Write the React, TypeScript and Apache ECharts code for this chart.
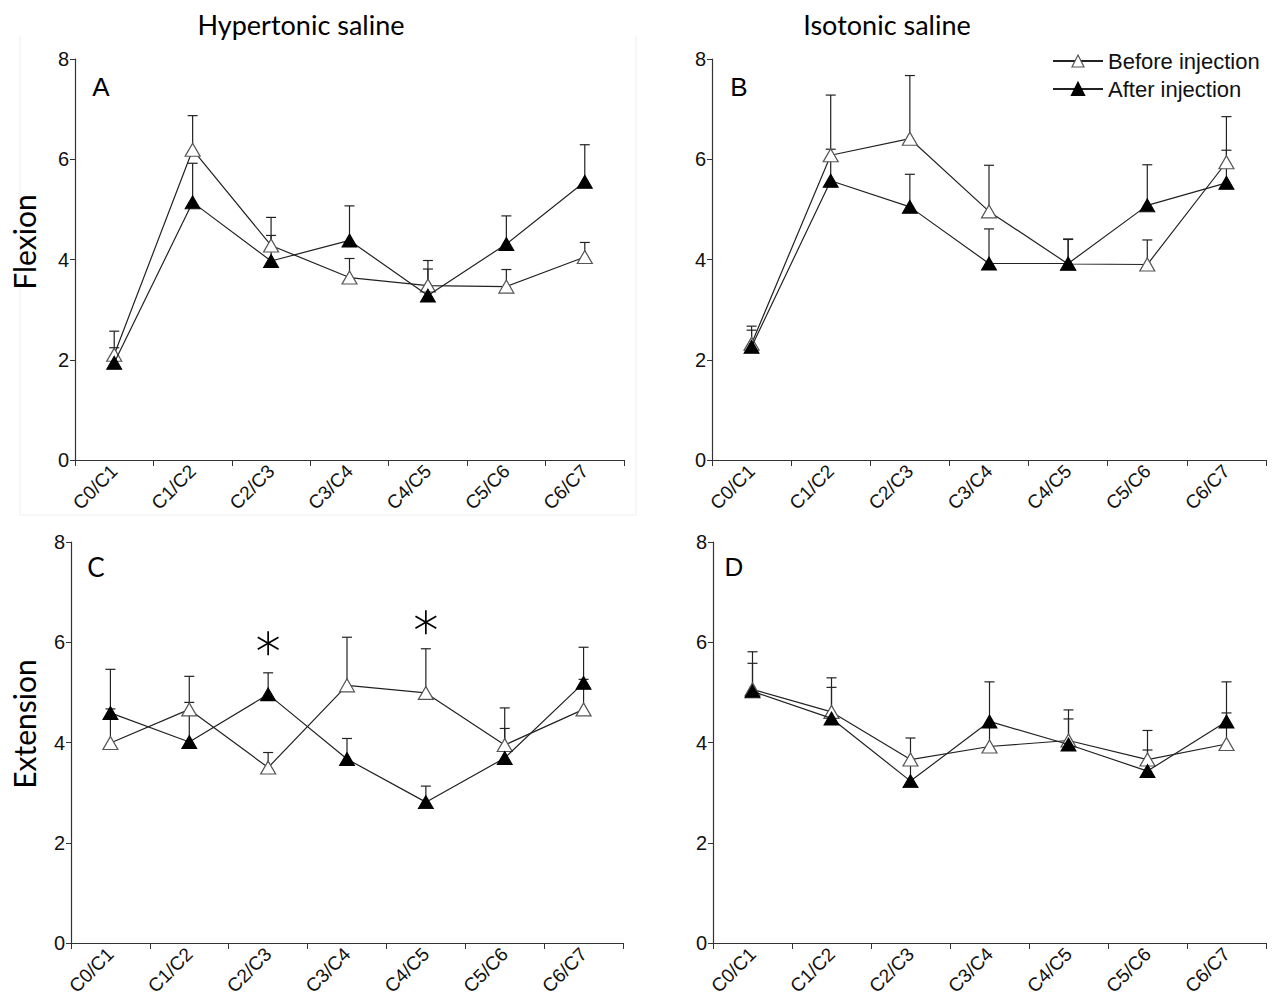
import React, { useEffect, useRef } from "react";
import * as echarts from "echarts";

const categories = ["C0/C1", "C1/C2", "C2/C3", "C3/C4", "C4/C5", "C5/C6", "C6/C7"];
const yTicks = [0, 2, 4, 6, 8];

// Panel A: flexion, hypertonic saline (means and upper end of error bars)
const aBefore = [2.1, 6.19, 4.28, 3.64, 3.48, 3.46, 4.05];
const aBeforeTop = [2.57, 6.87, 4.84, 4.02, 3.98, 3.8, 4.34];
const aAfter = [1.94, 5.14, 3.97, 4.38, 3.28, 4.31, 5.55];
const aAfterTop = [2.24, 5.92, 4.48, 5.07, 3.81, 4.87, 6.29];

// Panel B: flexion, isotonic saline
const bBefore = [2.32, 6.08, 6.41, 4.96, 3.91, 3.9, 5.94];
const bBeforeTop = [2.67, 7.28, 7.67, 5.88, 4.4, 4.39, 6.85];
const bAfter = [2.26, 5.57, 5.05, 3.92, 3.92, 5.08, 5.53];
const bAfterTop = [2.59, 6.2, 5.7, 4.61, 4.41, 5.89, 6.18];

// Panel C: extension, hypertonic saline
const cBefore = [3.99, 4.66, 3.5, 5.14, 4.99, 3.95, 4.66];
const cBeforeTop = [4.67, 5.32, 3.8, 6.1, 5.87, 4.69, 5.26];
const cAfter = [4.59, 4.01, 4.96, 3.67, 2.81, 3.69, 5.19];
const cAfterTop = [5.46, 4.8, 5.39, 4.08, 3.13, 4.28, 5.9];

// Panel D: extension, isotonic saline
const dBefore = [5.06, 4.61, 3.66, 3.92, 4.04, 3.66, 3.97];
const dBeforeTop = [5.81, 5.29, 4.09, 4.3, 4.65, 4.24, 4.59];
const dAfter = [5.02, 4.48, 3.23, 4.42, 3.96, 3.43, 4.42];
const dAfterTop = [5.58, 5.1, 3.56, 5.21, 4.47, 3.85, 5.21];

// significance markers in panel C
const starIndex = [2, 4];
const starValues = [5.98, 6.4];

const panels = [
  { before: aBefore, beforeTop: aBeforeTop, after: aAfter, afterTop: aAfterTop },
  { before: bBefore, beforeTop: bBeforeTop, after: bAfter, afterTop: bAfterTop },
  { before: cBefore, beforeTop: cBeforeTop, after: cAfter, afterTop: cAfterTop },
  { before: dBefore, beforeTop: dBeforeTop, after: dAfter, afterTop: dAfterTop },
];

const grids = [
  { left: 75, top: 59, width: 549, height: 401 },
  { left: 712, top: 59, width: 554, height: 401 },
  { left: 71, top: 542, width: 552, height: 401 },
  { left: 713, top: 542, width: 553, height: 401 },
];

const AX = "#333";

function errorBar(params: any, api: any) {
  const x = api.value(0);
  const p0 = api.coord([x, api.value(1)]);
  const p1 = api.coord([x, api.value(2)]);
  const st = { stroke: "#222", lineWidth: 1.2 };
  return {
    type: "group",
    children: [
      { type: "line", shape: { x1: p0[0], y1: p0[1], x2: p1[0], y2: p1[1] }, style: st },
      { type: "line", shape: { x1: p1[0] - 5, y1: p1[1], x2: p1[0] + 5, y2: p1[1] }, style: st },
    ],
  };
}

function star(params: any, api: any) {
  const c = api.coord([api.value(0), api.value(1)]);
  const r = 12;
  const st = { stroke: "#000", lineWidth: 1.7 };
  const angles = [90, 30, 150];
  return {
    type: "group",
    children: angles.map((a) => {
      const rad = (a * Math.PI) / 180;
      const dx = r * Math.cos(rad);
      const dy = r * Math.sin(rad);
      return {
        type: "line",
        shape: { x1: c[0] - dx, y1: c[1] - dy, x2: c[0] + dx, y2: c[1] + dy },
        style: st,
      };
    }),
  };
}

export default function App() {
  const ref = useRef<HTMLDivElement>(null);
  useEffect(() => {
    if (!ref.current) return;
    const chart = echarts.init(ref.current, undefined, { renderer: "svg" });
    const series: any[] = [];
    panels.forEach((p, i) => {
      series.push({
        type: "custom",
        xAxisIndex: i,
        yAxisIndex: i,
        z: 1,
        renderItem: errorBar,
        encode: { x: 0, y: [1, 2] },
        data: p.before.map((v, k) => [k, v, p.beforeTop[k]]),
      });
      series.push({
        type: "custom",
        xAxisIndex: i,
        yAxisIndex: i,
        z: 1,
        renderItem: errorBar,
        encode: { x: 0, y: [1, 2] },
        data: p.after.map((v, k) => [k, v, p.afterTop[k]]),
      });
      series.push({
        name: "Before injection",
        type: "line",
        xAxisIndex: i,
        yAxisIndex: i,
        z: 3,
        data: p.before,
        symbol: "triangle",
        symbolSize: [15, 13],
        lineStyle: { color: "#222", width: 1.2 },
        itemStyle: { color: "#fff", borderColor: "#555", borderWidth: 1.2 },
      });
      series.push({
        name: "After injection",
        type: "line",
        xAxisIndex: i,
        yAxisIndex: i,
        z: 4,
        data: p.after,
        symbol: "triangle",
        symbolSize: [15, 13],
        lineStyle: { color: "#222", width: 1.2 },
        itemStyle: { color: "#000", borderColor: "#000", borderWidth: 1 },
      });
    });
    series.push({
      type: "custom",
      xAxisIndex: 2,
      yAxisIndex: 2,
      z: 5,
      renderItem: star,
      encode: { x: 0, y: 1 },
      data: starIndex.map((c, k) => [c, starValues[k]]),
    });

    const text = (t: string, x: number, y: number, size: number, family: string, rot = 0) => ({
      type: "text",
      x,
      y,
      rotation: rot,
      style: {
        text: t,
        x: 0,
        y: 0,
        align: "center",
        verticalAlign: "middle",
        fontSize: size,
        fontFamily: family,
        fill: "#000",
      },
    });

    chart.setOption({
      animation: false,
      backgroundColor: "#fff",
      grid: grids,
      legend: {
        data: [
          { name: "Before injection", itemStyle: { color: "#fff", borderColor: "#555", borderWidth: 1.2 } },
          { name: "After injection" },
        ],
        orient: "vertical",
        left: 1047,
        top: 45,
        itemWidth: 50,
        itemHeight: 15,
        itemGap: 6,
        textStyle: { fontSize: 22, fontFamily: "Liberation Sans", color: "#111" },
        selectedMode: false,
      },
      xAxis: grids.map((_, i) => ({
        type: "category",
        gridIndex: i,
        data: categories,
        boundaryGap: true,
        axisLine: { lineStyle: { color: AX, width: 1.2 } },
        axisTick: { show: true, length: 6, lineStyle: { color: AX } },
        axisLabel: {
          rotate: 45,
          fontSize: 19,
          fontFamily: "Liberation Sans",
          color: "#111",
          margin: 8,
          interval: 0,
        },
      })),
      yAxis: grids.map((_, i) => ({
        type: "value",
        gridIndex: i,
        min: yTicks[0],
        max: yTicks[yTicks.length - 1],
        interval: 2,
        splitLine: { show: false },
        axisLine: { show: true, lineStyle: { color: AX, width: 1.2 } },
        axisTick: { show: true, length: 5, lineStyle: { color: AX } },
        axisLabel: {
          fontSize: 20,
          fontFamily: "Liberation Sans",
          color: "#111",
          margin: 6,
        },
      })),
      graphic: [
        { type: "line", shape: { x1: 20, y1: 36, x2: 20, y2: 515 }, style: { stroke: "#eee", lineWidth: 1 } },
        { type: "line", shape: { x1: 636, y1: 36, x2: 636, y2: 515 }, style: { stroke: "#eee", lineWidth: 1 } },
        { type: "line", shape: { x1: 20, y1: 515, x2: 636, y2: 515 }, style: { stroke: "#eee", lineWidth: 1 } },
        text("Hypertonic saline", 301, 24, 27, "Lato"),
        text("Isotonic saline", 887, 24, 27, "Lato"),
        text("Flexion", 24, 242, 30, "Lato", Math.PI / 2),
        text("Extension", 24, 724, 30, "Lato", Math.PI / 2),
        text("A", 101, 87, 26, "Liberation Sans"),
        text("B", 739, 87, 26, "Liberation Sans"),
        text("C", 96, 567, 26, "Lato"),
        text("D", 734, 567, 26, "Liberation Sans"),
      ],
      series,
    });
    return () => chart.dispose();
  }, []);
  return (
    <div
      ref={ref}
      style={{ position: "absolute", left: 0, top: 0, width: 1272, height: 1000 }}
    />
  );
}
